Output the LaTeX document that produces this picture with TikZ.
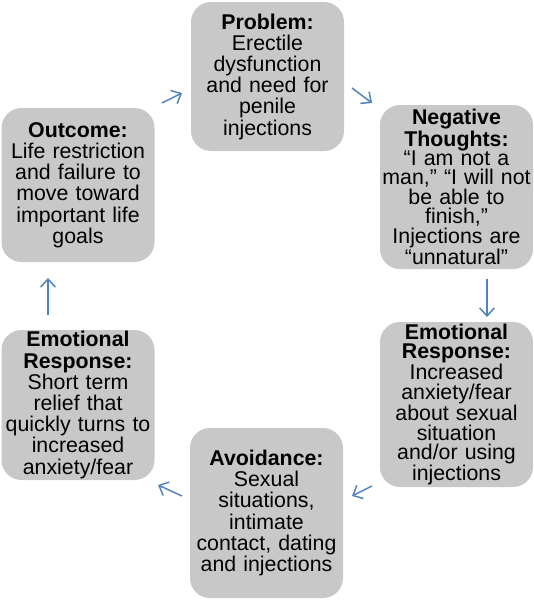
\documentclass[tikz,border=0pt]{standalone}
\usepackage{fontspec}
\setmainfont{Liberation Sans}
\usetikzlibrary{arrows.meta}

\definecolor{boxgray}{RGB}{200,200,200}
\definecolor{arrowblue}{RGB}{79,129,189}

\begin{document}
\begin{tikzpicture}[x=0.75pt, y=-0.75pt,
	box/.style={fill=boxgray, rounded corners=15pt, align=center, inner sep=0pt,
		minimum width=114.75pt, text width=113pt, font=\fontsize{16}{15.9}\selectfont},
	tight/.style={font=\fontsize{16}{14.6}\selectfont},
	cyc/.style={draw=arrowblue, line width=1.1pt, -{Straight Barb[length=6pt, width=11pt]}}]

	\useasboundingbox (0,0) rectangle (534,600);

	% the six stages of the cycle
	\node[box, minimum height=111.75pt] (problem) at (267.5,76.5)
		{\textbf{Problem:}\\Erectile\\dysfunction\\and need for\\penile\\injections};
	\node[box, tight, minimum height=123pt] (thoughts) at (456.5,187)
		{\textbf{Negative}\\\textbf{Thoughts:}\\“I am not a\\man,” “I will not\\be able to\\finish,”\\Injections are\\“unnatural”};
	\node[box, tight, minimum height=123.75pt] (emotionA) at (456.5,404.5)
		{\textbf{Emotional}\\\textbf{Response:}\\Increased\\anxiety/fear\\about sexual\\situation\\and/or using\\injections};
	\node[box, minimum height=127.5pt] (avoid) at (266.5,513)
		{\textbf{Avoidance:}\\Sexual\\situations,\\intimate\\contact, dating\\and injections};
	\node[box, minimum height=112.5pt] (emotionB) at (78,405)
		{\textbf{Emotional}\\\textbf{Response:}\\Short term\\relief that\\quickly turns to\\increased\\anxiety/fear};
	\node[box, minimum height=115.5pt] (outcome) at (78,185)
		{\textbf{Outcome:}\\Life restriction\\and failure to\\move toward\\important life\\goals};

	% arrow ends between the boxes
	\coordinate (outcome-out) at (162,103);
	\coordinate (problem-in) at (182,93);
	\coordinate (problem-out) at (352,88);
	\coordinate (thoughts-in) at (372,103);
	\coordinate (thoughts-out) at (487,279);
	\coordinate (emotionA-in) at (487,317);
	\coordinate (emotionA-out) at (372,486);
	\coordinate (avoid-in) at (352,496);
	\coordinate (avoid-out) at (182,496);
	\coordinate (emotionB-in) at (158,485);
	\coordinate (emotionB-out) at (48,315);
	\coordinate (outcome-in) at (48,278);

	\draw[cyc] (outcome-out) -- (problem-in);
	\draw[cyc] (problem-out) -- (thoughts-in);
	\draw[cyc] (thoughts-out) -- (emotionA-in);
	\draw[cyc] (emotionA-out) -- (avoid-in);
	\draw[cyc] (avoid-out) -- (emotionB-in);
	\draw[cyc] (emotionB-out) -- (outcome-in);

\end{tikzpicture}
\end{document}
